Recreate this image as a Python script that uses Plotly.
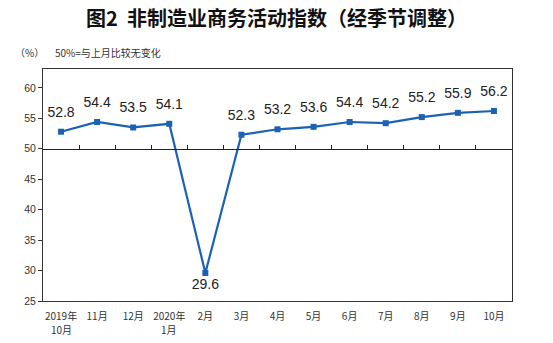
import plotly.graph_objects as go

categories = ["2019年10月", "11月", "12月", "2020年1月", "2月", "3月", "4月",
              "5月", "6月", "7月", "8月", "9月", "10月"]
tick_line1 = ["2019年", "11月", "12月", "2020年", "2月", "3月", "4月",
              "5月", "6月", "7月", "8月", "9月", "10月"]
tick_line2 = ["10月", "", "", "1月", "", "", "", "", "", "", "", "", ""]
values = [52.8, 54.4, 53.5, 54.1, 29.6, 52.3, 53.2, 53.6, 54.4, 54.2, 55.2, 55.9, 56.2]
y_ticks = [25, 30, 35, 40, 45, 50, 55, 60]
y_range = [25, 63.1]
ref_line = 50

blue = "#1c62b4"
cjk = "Noto Sans CJK SC"
num_font = "Liberation Sans"

positions = ["bottom center" if v < ref_line else "top center" for v in values]
pad_sizes = [8 if v < ref_line else 17 for v in values]

fig = go.Figure()
fig.add_trace(go.Scatter(
    x=categories, y=values, mode="lines+markers",
    line=dict(color=blue, width=2.2),
    marker=dict(symbol="square", size=6, color=blue),
    cliponaxis=False, showlegend=False, hoverinfo="skip",
))
# data labels (invisible, larger markers give the label offset)
fig.add_trace(go.Scatter(
    x=categories, y=values, mode="markers+text",
    marker=dict(size=pad_sizes, opacity=0),
    text=[f"{v:.1f}" for v in values], textposition=positions,
    textfont=dict(family=num_font, size=14, color="#222"),
    cliponaxis=False, showlegend=False, hoverinfo="skip",
))
# invisible trace to host the reference axis at 50
fig.add_trace(go.Scatter(x=categories, y=values, xaxis="x2", mode="markers",
                         marker=dict(opacity=0), showlegend=False, hoverinfo="skip"))

pos50 = (ref_line - y_range[0]) / (y_range[1] - y_range[0])

annotations = [
    dict(text="（%）", xref="paper", yref="paper", x=(13 - 43) / 469, y=(301 - 52) / 232,
         xanchor="left", yanchor="middle", showarrow=False,
         font=dict(family=cjk, size=10, color="#333")),
    dict(text="50%=与上月比较无变化", xref="paper", yref="paper", x=(53 - 43) / 469,
         y=(301 - 52) / 232, xanchor="left", yanchor="middle", showarrow=False,
         font=dict(family=cjk, size=10, color="#333")),
]
for c, t in zip(categories, tick_line2):
    if t:
        annotations.append(dict(text=t, x=c, xref="x", yref="paper", y=(301 - 329) / 232,
                                xanchor="center", yanchor="middle", showarrow=False,
                                font=dict(family=cjk, size=10, color="#333")))

fig.update_layout(
    width=553, height=343,
    margin=dict(l=43, r=41, t=69, b=42),
    paper_bgcolor="white", plot_bgcolor="white",
    title=dict(text="<b>图2  非制造业商务活动指数（经季节调整）</b>",
               x=0.5, xanchor="center", y=1 - 19 / 343, yanchor="middle",
               font=dict(family=cjk, size=20, color="#111")),
    xaxis=dict(type="category", categoryorder="array", categoryarray=categories,
               range=[-0.5, len(categories) - 0.5],
               tickvals=categories, ticktext=tick_line1, ticklabelstandoff=6,
               showline=True, linecolor="#333", linewidth=1, mirror=True,
               ticks="", showgrid=False,
               tickfont=dict(family=cjk, size=10, color="#333")),
    xaxis2=dict(type="category", categoryorder="array", categoryarray=categories,
                overlaying="x", anchor="free", position=pos50, side="bottom",
                range=[-0.5, len(categories) - 0.5], matches="x",
                showline=True, linecolor="#222", linewidth=1,
                ticks="inside", ticklen=4, tickcolor="#222", tickson="boundaries",
                showticklabels=False, showgrid=False),
    yaxis=dict(range=y_range, tickvals=y_ticks, showline=True, linecolor="#333",
               linewidth=1, mirror=True, ticks="outside", ticklen=4, tickcolor="#333",
               showgrid=False, zeroline=False,
               tickfont=dict(family=num_font, size=10.5, color="#333")),
    annotations=annotations,
)

fig.write_html("out.html")
